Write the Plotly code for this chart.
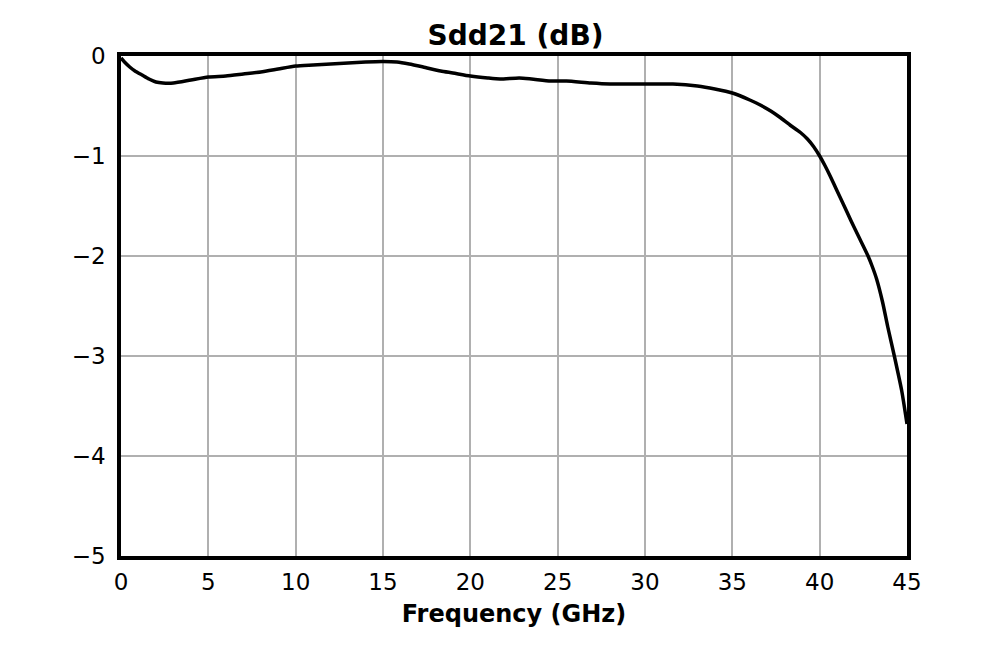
import plotly.graph_objects as go

# 读图得到的 Sdd21 曲线
freq_ghz = [0, 0.2, 0.5, 0.8, 1.2, 1.6, 2.0, 2.4, 3.0, 4.0, 5.0, 6.0, 7.0, 8.0, 9.0,
            10.0, 11.0, 12.0, 13.0, 14.0, 15.0, 15.8, 16.5, 17.3, 18.3, 19.0, 20.0,
            21.0, 21.7, 22.8, 23.5, 24.6, 25.5, 26.9, 28.0, 29.0, 30.0, 31.6, 33.0,
            34.0, 35.0, 36.0, 36.6, 37.2, 37.7, 38.3, 38.9, 39.3, 39.65, 40.0, 40.3,
            40.6, 41.0, 41.35, 41.8, 42.3, 42.77, 43.0, 43.26, 43.6, 43.9, 44.3, 44.7, 45.0]
sdd21_db = [-0.02, -0.06, -0.11, -0.15, -0.19, -0.23, -0.26, -0.27, -0.27, -0.24, -0.21,
            -0.20, -0.18, -0.16, -0.13, -0.10, -0.09, -0.08, -0.07, -0.06, -0.055, -0.06,
            -0.08, -0.11, -0.15, -0.17, -0.20, -0.22, -0.23, -0.22, -0.23, -0.25, -0.25,
            -0.27, -0.28, -0.28, -0.28, -0.28, -0.30, -0.33, -0.37, -0.44, -0.49, -0.55,
            -0.61, -0.69, -0.765, -0.83, -0.905, -1.0, -1.095, -1.2, -1.35, -1.48, -1.65,
            -1.83, -2.0, -2.1, -2.23, -2.46, -2.71, -3.02, -3.35, -3.68]

x_ticks = [0, 5, 10, 15, 20, 25, 30, 35, 40, 45]
y_ticks = [-5, -4, -3, -2, -1, 0]

fig = go.Figure(go.Scatter(
    x=freq_ghz,
    y=sdd21_db,
    mode="lines",
    line=dict(color="black", width=3.5, shape="spline", smoothing=0.6),
    hoverinfo="x+y"
))

axis_style = dict(
    showline=True,
    mirror=True,
    linecolor="black",
    linewidth=3.5,
    showgrid=True,
    gridcolor="#b0b0b0",
    gridwidth=1.5,
    zeroline=False,
    ticks="",
    tickfont=dict(family="DejaVu Sans", size=23, color="black"),
)

# 页面 body 有约 8px 的默认边距，这里在 margin 里扣掉
fig.update_layout(
    width=1008,
    height=648,
    paper_bgcolor="white",
    plot_bgcolor="white",
    showlegend=False,
    margin=dict(l=113, r=109, t=48, b=100),
    font=dict(family="DejaVu Sans", color="black"),
    title=dict(
        text="<b>Sdd21 (dB)</b>",
        font=dict(family="DejaVu Sans", size=28, color="black"),
        x=(113 + 899) / 2 / 1008,
        xanchor="center",
        xref="paper",
        yref="container",
        y=1 - 27 / 648,
        yanchor="middle",
    ),
    xaxis=dict(
        axis_style,
        range=[0, 45],
        tickvals=x_ticks,
        ticklabelstandoff=3,
        title=dict(text="<b>Frequency (GHz)</b>",
                   font=dict(family="DejaVu Sans", size=24, color="black"),
                   standoff=12),
    ),
    yaxis=dict(
        axis_style,
        range=[-5, 0],
        tickvals=y_ticks,
        ticklabelstandoff=7,
    ),
)

fig.write_html("out.html")
